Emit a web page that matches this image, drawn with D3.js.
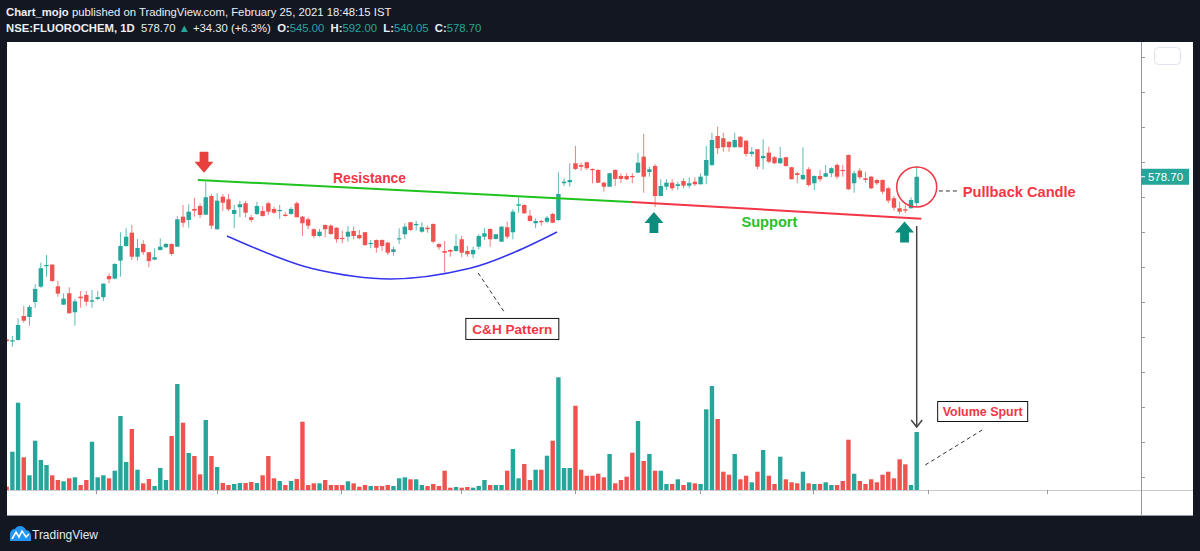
<!DOCTYPE html>
<html><head><meta charset="utf-8">
<script src="https://cdn.jsdelivr.net/npm/d3@7"></script>
<style>html,body{margin:0;padding:0;background:#131722;overflow:hidden}svg{display:block}</style>
</head><body><svg id="c" width="1200" height="551"></svg>
<script>
// ---------- DATA (NSE:FLUOROCHEM, 1D) ----------
const openP = [370.4,368.5,369.8,400.5,399.2,418.4,438.0,464.5,466.2,438.5, 415.0,429.6,405.3,425.2,427.4,418.8,422.3,424.5,451.7,448.3, 471.3,490.1,507.1,476.4,492.7,482.1,472.6,485.0,488.5,492.7, 489.2,527.6,523.4,537.5,541.3,530.2,554.1,511.5,553.2,549.9, 531.1,539.7,544.8,526.9,531.1,534.9,544.8,537.5,534.9,530.2, 531.1,544.8,527.6,524.3,511.5,502.9,517.0,516.1,513.5,500.4, 502.0,509.3,504.2,507.7,493.1,497.8,497.8,494.3,482.4,498.7, 505.1,520.5,516.6,508.4,513.5,518.3,492.7,483.7,485.0,483.7, 498.7,483.7,479.5,489.2,502.0,511.9,499.1,495.6,514.1,507.7, 541.7,542.6,528.9,519.2,522.1,521.2,531.1,523.4,570.4,571.7, 596.0,593.8,597.3,588.7,587.4,571.1,566.0,587.4,579.7,579.7, 579.7,584.0,604.4,584.8,592.5,554.1,566.0,571.1,566.9,573.3, 567.3,572.4,569.1,580.1,593.8,630.9,628.0,623.6,616.5,630.0, 624.9,607.9,613.9,602.4,609.5,603.7,596.0,603.7,590.9,583.2, 575.5,588.3,570.4,579.7,578.8,583.2,593.8,587.4,606.6,570.4, 586.5,576.8,578.8,574.6,574.6,564.0,551.2,538.4,537.1,538.4, 545.0];
const highP = [371.7,374.9,397.6,413.3,414.6,441.1,468.7,478.6,467.1,445.7, 429.6,437.3,422.3,432.5,432.5,433.8,432.5,442.1,455.2,468.0, 507.7,512.8,517.0,499.1,497.8,482.4,487.2,500.0,494.0,493.3, 528.5,542.6,543.5,551.9,544.8,572.4,556.7,557.6,556.7,556.7, 542.6,548.1,547.7,529.8,546.8,541.3,546.8,540.4,542.6,533.3, 539.7,546.8,528.5,526.9,512.8,511.9,517.6,517.9,514.1,509.7, 515.7,514.8,510.6,508.0,497.8,498.4,498.4,495.6,489.2,512.8, 519.2,520.8,522.1,520.5,516.1,518.9,493.3,496.5,485.9,505.1, 502.9,490.1,489.2,505.1,512.8,512.5,505.5,515.7,521.2,537.1, 552.5,543.2,536.2,525.6,523.4,528.5,532.7,584.5,576.8,596.0, 618.1,596.7,598.0,589.3,588.3,572.4,584.0,588.0,583.2,583.2, 583.2,609.5,633.5,591.6,595.1,575.5,575.5,575.5,572.4,576.8, 578.1,578.1,583.2,618.1,635.1,642.8,635.1,623.9,635.1,630.3, 625.2,616.5,614.3,626.7,617.2,605.3,617.2,604.4,591.6,585.2, 616.5,590.9,580.4,587.4,593.8,590.9,596.0,593.8,607.2,586.5, 589.6,585.2,579.7,575.5,575.5,566.0,554.1,546.8,542.6,552.5, 592.0];
const lowP = [367.2,361.2,368.9,392.0,388.1,411.1,436.7,450.8,444.0,425.2, 414.6,403.7,388.1,411.1,413.7,411.1,421.0,419.7,442.4,447.5, 450.8,489.2,472.2,471.3,478.6,462.9,472.2,484.4,487.6,477.7, 488.8,514.1,513.5,527.6,525.6,529.8,511.9,511.2,534.9,534.9, 512.8,526.9,526.9,520.5,529.8,527.6,529.8,531.1,524.7,527.6, 530.2,526.6,502.9,511.5,500.0,502.0,501.3,504.2,494.3,493.6, 495.6,498.7,498.7,490.1,487.2,481.5,483.7,478.6,477.7,492.7, 499.1,509.3,509.7,507.1,507.1,493.6,485.0,455.9,476.4,482.8, 475.7,476.4,474.4,485.9,497.8,489.2,498.4,495.6,499.1,498.7, 532.7,531.1,521.2,512.8,516.1,519.2,519.2,522.1,566.9,566.0, 587.4,586.5,587.4,570.4,570.4,559.6,566.0,566.9,570.4,574.6, 570.4,583.2,558.3,578.8,539.7,553.5,561.8,560.9,561.8,564.0, 564.0,566.9,568.8,569.1,592.5,607.9,610.8,610.8,616.2,616.2, 604.4,604.4,588.3,588.3,596.0,595.1,595.1,591.6,575.2,570.4, 574.6,566.0,561.8,572.4,578.1,578.1,575.5,578.8,561.8,558.3, 575.5,571.1,562.7,568.2,556.7,544.8,535.3,531.1,532.0,538.1, 540.05];
const closeP = [368.5,369.4,389.0,394.5,412.0,435.1,461.6,465.8,445.3,429.1, 422.7,404.0,419.3,423.2,418.8,420.6,424.5,441.9,447.5,467.1, 490.1,502.0,476.4,487.6,482.1,470.9,475.7,489.2,492.7,479.9, 524.3,519.9,534.0,535.3,529.8,552.5,516.1,548.1,545.5,537.1, 536.2,543.5,532.7,523.4,541.3,528.5,534.0,532.7,536.2,528.5, 537.5,526.9,519.2,516.1,502.9,508.4,511.5,505.5,498.7,499.1, 508.4,502.9,500.0,491.4,494.0,487.9,490.1,481.5,485.9,500.0, 514.8,510.6,518.3,514.1,511.5,495.6,488.5,481.5,482.8,490.1, 481.5,479.5,485.0,502.9,506.4,498.7,505.1,514.8,502.0,534.0, 543.5,532.0,522.1,522.1,520.5,526.3,519.9,556.7,572.4,574.6, 588.7,591.6,589.6,587.4,571.1,566.0,583.2,575.9,575.9,575.5, 578.1,596.7,578.8,588.3,554.1,566.9,571.1,564.0,569.1,567.3, 570.4,569.1,578.8,600.2,625.8,615.2,616.5,616.5,625.8,616.5, 607.9,610.8,591.6,605.3,598.0,596.0,602.4,592.5,575.5,581.0, 581.0,568.2,579.7,575.5,583.2,589.6,578.8,586.1,562.7,583.2, 578.1,574.6,564.0,570.4,559.6,548.1,539.1,534.0,535.3,549.0, 578.7];
// volume, thousands of shares
const volume = [33,383,873,327,147,493,300,250,147,100, 87,117,127,50,100,483,127,147,117,193, 740,280,610,203,67,110,40,220,100,540, 1060,673,370,340,157,700,340,230,70,50, 60,70,70,80,70,147,340,117,90,50, 90,110,683,50,67,67,100,50,50,50, 87,67,33,50,40,40,40,50,40,117, 127,107,107,50,40,60,40,193,23,30, 23,30,23,40,100,50,50,50,193,410, 117,260,100,203,203,343,493,1127,220,220, 843,203,143,143,163,127,360,67,100,133, 373,690,290,360,193,193,60,60,107,50, 77,67,60,807,1040,710,183,153,360,107, 143,77,183,400,143,60,333,107,77,67, 183,67,60,60,77,50,50,90,503,163, 90,60,107,77,153,183,117,307,257,50, 580];
const priceTicks = [732.0,687.2,642.4,597.6,552.8,508.0,463.2,418.4,373.6,328.8,284.0,239.2,194.4];
const timeTicks = [15.7,36.9,58.8,79.8,99.9,121.9,141.7,161.9,182.9]; // month boundaries (bar index)
const lastPrice = 578.70;

// annotation anchors in data units: [bar index, price]
const resistanceLine = [[33.6,574.6],[109.8,546.4]];
const supportLine = [[109.8,546.4],[160.8,525.1]];
const cupCurve = [[38.73,502.9],[46.65,478.6],[53.68,461.3],[67.39,447.9],[81.46,461.6],[89.37,482.4],[96.76,508.0]];

// ---------- SCALES ----------
const svg = d3.select("#c");
const x = d3.scaleLinear().domain([0,160]).range([6.7,916.7]);
const y = d3.scaleLinear().domain([194.4,732.0]).range([477,57]);
const yv = d3.scaleLinear().domain([0,1130]).range([490,377]);
const UP="#26a69a", DN="#ef5350";
const FONT="'Liberation Sans', Arial, sans-serif";

svg.append("rect").attr("width",1200).attr("height",551).attr("fill","#131722");
svg.append("rect").attr("x",7).attr("y",42).attr("width",1186).attr("height",474).attr("fill","#ffffff");

const defs = svg.append("defs");
defs.append("clipPath").attr("id","plot").append("rect").attr("x",7).attr("y",42).attr("width",1134).attr("height",448);

const plot = svg.append("g").attr("clip-path","url(#plot)");
const idx = d3.range(openP.length);
const col = i => closeP[i] >= openP[i] ? UP : DN;

// volume
plot.append("g").selectAll("rect").data(idx).join("rect")
  .attr("x", i => x(i)-2.2).attr("width",4.4)
  .attr("y", i => yv(volume[i])).attr("height", i => yv(0)-yv(volume[i]))
  .attr("fill", col);

// candles
const cg = plot.append("g");
cg.selectAll("line").data(idx).join("line")
  .attr("x1", i => x(i)).attr("x2", i => x(i))
  .attr("y1", i => y(highP[i])).attr("y2", i => y(lowP[i]))
  .attr("stroke", col).attr("stroke-width",1).attr("stroke-opacity",0.75);
cg.selectAll("rect").data(idx).join("rect")
  .attr("x", i => x(i)-2.2).attr("width",4.4)
  .attr("y", i => y(Math.max(openP[i],closeP[i])))
  .attr("height", i => Math.max(1.2, Math.abs(y(openP[i])-y(closeP[i]))))
  .attr("fill", col);

// axes lines
svg.append("line").attr("x1",7).attr("x2",1193).attr("y1",490.5).attr("y2",490.5).attr("stroke","#c9cbd1");
svg.append("line").attr("x1",7).attr("x2",1193).attr("y1",515.5).attr("y2",515.5).attr("stroke","#9598a1");
svg.append("line").attr("x1",1141.5).attr("x2",1141.5).attr("y1",42).attr("y2",516).attr("stroke","#9598a1");
svg.append("g").selectAll("line").data(priceTicks).join("line")
  .attr("x1",1141).attr("x2",1145).attr("y1",d=>Math.round(y(d))+0.5).attr("y2",d=>Math.round(y(d))+0.5).attr("stroke","#9598a1");
svg.append("g").selectAll("line").data(timeTicks).join("line")
  .attr("x1",d=>Math.round(x(d))+0.5).attr("x2",d=>Math.round(x(d))+0.5).attr("y1",490).attr("y2",494).attr("stroke","#9598a1");
svg.append("rect").attr("x",1154.5).attr("y",47.5).attr("width",26).attr("height",17).attr("rx",4)
  .attr("fill","none").attr("stroke","#e0e3eb");

// last price label
const ly = y(lastPrice);
svg.append("rect").attr("x",1141).attr("y",ly-8).attr("width",48).attr("height",16).attr("fill",UP);
svg.append("line").attr("x1",1141).attr("x2",1145).attr("y1",ly).attr("y2",ly).attr("stroke","#fff");
svg.append("text").attr("x",1165.5).attr("y",ly+4).attr("text-anchor","middle").attr("fill","#fff")
  .attr("font-family",FONT).attr("font-size",11.5).text(lastPrice.toFixed(2));

// ---------- ANNOTATIONS ----------
const ann = svg.append("g").attr("clip-path","url(#plot)");
const lineGen = d3.line().x(d=>x(d[0])).y(d=>y(d[1]));
ann.append("path").attr("d",lineGen(resistanceLine)).attr("stroke","#1ec31e").attr("stroke-width",2).attr("fill","none");
ann.append("path").attr("d",lineGen(supportLine)).attr("stroke","#f23645").attr("stroke-width",2).attr("fill","none");
ann.append("path").attr("d",lineGen.curve(d3.curveCatmullRom)(cupCurve)).attr("stroke","#3535ee").attr("stroke-width",1.5).attr("fill","none");
lineGen.curve(d3.curveLinear);

function arrow(tx,ty,dir,color){
  const s = dir; // 1 = down (tip at bottom), -1 = up
  const pts = [[0,0],[9.5,-11*s],[4.4,-11*s],[4.4,-21*s],[-4.4,-21*s],[-4.4,-11*s],[-9.5,-11*s]];
  ann.append("polygon").attr("points",pts.map(p=>[tx+p[0],ty+p[1]].join(",")).join(" ")).attr("fill",color);
}
arrow(x(34.69), y(583.9), 1, "#e8403d");
arrow(x(113.8), y(533.6), -1, "#0b8c7c");
arrow(x(157.86), y(521.5), -1, "#0b8c7c");

function label(txt, cx, by, color, size, w){
  ann.append("text").attr("x",cx).attr("y",by).attr("text-anchor","middle").attr("fill",color)
    .attr("font-family",FONT).attr("font-weight","bold").attr("font-size",size)
    .attr("textLength",w).attr("lengthAdjust","spacingAndGlyphs").text(txt);
}
label("Resistance", x(63.79), y(570.8), "#f23645", 14, 73);
label("Support", x(134.1), y(514.4), "#27c027", 14, 56);

// C&H pattern callout
ann.append("line").attr("x1",x(82.9)).attr("y1",y(455.6)).attr("x2",x(87.6)).attr("y2",y(404.4))
  .attr("stroke","#333").attr("stroke-dasharray","4,3");
const bx = x(88.9), byTop = y(398.0);
ann.append("rect").attr("x",bx-46.5).attr("y",byTop+0.5).attr("width",93).attr("height",21).attr("fill","#fff").attr("stroke","#111");
label("C&H Pattern", bx, byTop+16, "#f23645", 13, 80);

// pullback circle
const ccx = x(160), ccy = y(565.6);
ann.append("circle").attr("cx",ccx).attr("cy",ccy).attr("r",20).attr("fill","none").attr("stroke","#f23645").attr("stroke-width",1.5);
ann.append("line").attr("x1",x(163.9)).attr("x2",x(167.6)).attr("y1",y(560.5)).attr("y2",y(560.5))
  .attr("stroke","#333").attr("stroke-dasharray","4,3");
ann.append("text").attr("x",x(168.1)).attr("y",y(552.8)).attr("fill","#f23645").attr("font-family",FONT)
  .attr("font-weight","bold").attr("font-size",14).attr("textLength",113).attr("lengthAdjust","spacingAndGlyphs").text("Pullback Candle");

// vertical arrow to volume
const vx = x(160);
ann.append("line").attr("x1",vx).attr("x2",vx).attr("y1",y(515.7)).attr("y2",yv(630)).attr("stroke","#444").attr("stroke-width",1.5);
ann.append("path").attr("d",`M${vx-5.5},${yv(630)-7}L${vx},${yv(630)}L${vx+5.5},${yv(630)-7}`)
  .attr("fill","none").attr("stroke","#444").attr("stroke-width",1.5);

// Volume Spurt callout
const vbx = x(163.6), vby = yv(890);
ann.append("rect").attr("x",vbx+0.5).attr("y",vby+0.5).attr("width",90).attr("height",20).attr("fill","#fff").attr("stroke","#111");
label("Volume Spurt", vbx+45.5, vby+15, "#f23645", 12.5, 80);
ann.append("line").attr("x1",x(161.5)).attr("y1",yv(250)).attr("x2",x(171.5)).attr("y2",yv(600))
  .attr("stroke","#333").attr("stroke-dasharray","4,3");

// ---------- HEADER ----------
const WH="#eceff4", TL="#26a69a";
const headerLine1 = [["Chart_mojo",true,WH],[" published on TradingView.com, February 25, 2021 18:48:15 IST",false,WH]];
const headerLine2 = [["NSE:FLUOROCHEM, 1D",true,WH],["  578.70 ",false,WH],["▲",false,TL],[" +34.30 (+6.3%)  ",false,WH],
  ["O:",true,WH],["545.00",false,TL],["  H:",true,WH],["592.00",false,TL],["  L:",true,WH],["540.05",false,TL],["  C:",true,WH],["578.70",false,TL]];
function headerLine(parts, by){
  const t = svg.append("text").attr("x",6).attr("y",by).attr("font-family",FONT).attr("font-size",11.3)
    .attr("xml:space","preserve").style("white-space","pre");
  parts.forEach(p => t.append("tspan").attr("fill",p[2]).attr("font-weight",p[1]?"bold":"normal").text(p[0]));
}
headerLine(headerLine1, 16);
headerLine(headerLine2, 32);

// ---------- FOOTER LOGO ----------
const logo = svg.append("g").attr("transform","translate(8,526)");
logo.append("path").attr("d","M2,15 L2,9 C2,5 4,3 7,3 C8,1 10,0 12,0 C15,0 17,2 18,4 C21,4 23,7 23,10 L23,15 Z").attr("fill","#2196f3");
logo.append("path").attr("d","M4,13 L8,6 L11,11 L14,5 L18,11 L21,8").attr("fill","none").attr("stroke","#fff").attr("stroke-width",1.6);
svg.append("text").attr("x",32).attr("y",539).attr("fill","#e6e8ee").attr("font-family",FONT).attr("font-size",12.5)
  .attr("textLength",66).attr("lengthAdjust","spacingAndGlyphs").text("TradingView");
</script></body></html>
